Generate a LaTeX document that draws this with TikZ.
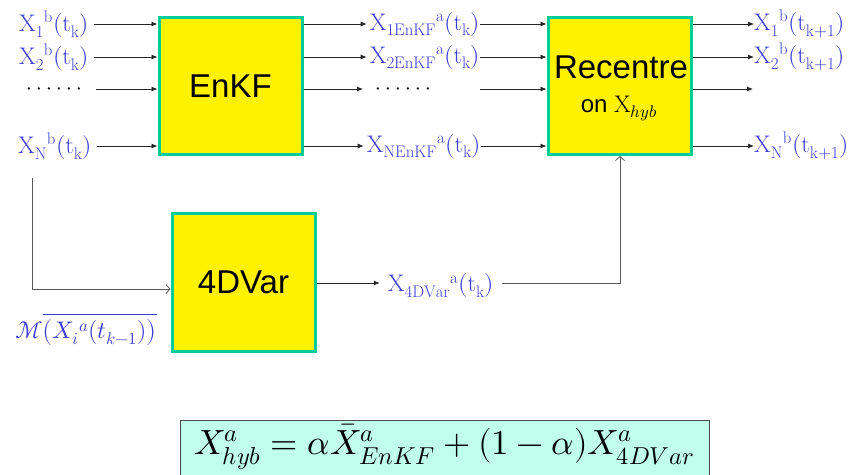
\documentclass[tikz,border=0pt]{standalone}
\usepackage{fontspec}
\usepackage{unicode-math}
\setmathfont{Latin Modern Math}
\newfontfamily\boxfont{Liberation Sans}
\usetikzlibrary{arrows.meta}
\definecolor{lblue}{RGB}{60,60,215}
\definecolor{tealb}{RGB}{0,204,153}
\definecolor{mint}{RGB}{192,255,236}
\newcommand\onedot{\makebox[10pt][c]{\textperiodcentered}}
\newcommand\sixdots{\onedot\onedot\onedot\onedot\onedot\onedot}
\begin{document}
\begin{tikzpicture}[x=1pt,y=-1pt,
 blk/.style={draw=tealb, line width=3pt, fill=yellow, minimum width=143pt, minimum height=137pt, inner sep=0pt, font=\boxfont\fontsize{33}{36}\selectfont},
 lbl/.style={text=lblue, font=\fontsize{24}{28}\selectfont, inner sep=0pt},
 dots/.style={font=\fontsize{28}{32}\selectfont, inner sep=0pt},
 arr/.style={draw=black!85, line width=0.8pt, -{Latex[length=6pt,width=5pt]}},
 oarr/.style={draw=black!65, line width=0.8pt, -{Straight Barb[length=4pt,width=9pt]}},
]
\useasboundingbox (0,0) rectangle (854,474);
% boxes
\node[blk] (enkf) at (230.5,86) {EnKF};
\node[blk] (rec) at (619.5,86) {};
\node[font=\boxfont\fontsize{33}{36}\selectfont, inner sep=0pt, anchor=base] (rect) at (621,78) {Recentre};
\node[font=\boxfont\fontsize{24}{28}\selectfont, inner sep=0pt, anchor=base] (ont) at (619,112) {on $\mathrm{X}_{hyb}$};
\node[blk, minimum height=138pt] (var) at (243.5,282) {4DVar};
% left labels
\node[lbl] (l1) at (54,24) {$\mathrm{X_1{}^b(t_k)}$};
\node[lbl] (l2) at (54,57) {$\mathrm{X_2{}^b(t_k)}$};
\node[dots] (l3) at (54,93) {\sixdots};
\node[lbl] (l4) at (55,146) {$\mathrm{X_N{}^b(t_k)}$};
\draw[arr] ([xshift=5pt]l1.east) -- (enkf.west |- l1);
\draw[arr] ([xshift=5pt]l2.east) -- (enkf.west |- l2);
\draw[arr] (96,89) coordinate (s3) -- (enkf.west |- s3);
\draw[arr] ([xshift=5pt]l4.east) -- (enkf.west |- l4);
% middle labels
\node[lbl] (m1) at (425,24) {$\mathrm{X_{1EnKF}{}^a(t_k)}$};
\node[lbl] (m2) at (425,57) {$\mathrm{X_{2EnKF}{}^a(t_k)}$};
\node[dots] (m3) at (403,93) {\sixdots};
\node[lbl] (m4) at (424,146) {$\mathrm{X_{NEnKF}{}^a(t_k)}$};
\draw[arr] (enkf.east |- m1) -- ([xshift=-3pt]m1.west);
\draw[arr] (enkf.east |- m2) -- ([xshift=-3pt]m2.west);
\draw[arr] (enkf.east |- 0,89) -- (363,89);
\draw[arr] (enkf.east |- m4) -- ([xshift=-3pt]m4.west);
\draw[arr] (m1.east) -- (rec.west |- m1);
\draw[arr] (m2.east) -- (rec.west |- m2);
\draw[arr] (480,89) coordinate (t3) -- (rec.west |- t3);
\draw[arr] (m4.east) -- (rec.west |- m4);
% right labels
\node[lbl, anchor=west] (r1) at (754,24) {$\mathrm{X_1{}^b(t_{k+1})}$};
\node[lbl, anchor=west] (r2) at (754,57) {$\mathrm{X_2{}^b(t_{k+1})}$};
\node[lbl, anchor=west] (r4) at (754,146) {$\mathrm{X_N{}^b(t_{k+1})}$};
\draw[arr] (rec.east |- r1) -- (r1.west);
\draw[arr] (rec.east |- r2) -- (r2.west);
\draw[arr] (rec.east |- 0,89) -- (753,89) coordinate (u3);
\draw[arr] (rec.east |- r4) -- (r4.west);
% model path
\coordinate (mstart) at (32,178);
\draw[oarr] (mstart) -- (32,289) -- (var.west |- 0,289);
\node[lbl] (mlab) at (86,330) {$\mathcal{M}\overline{\bigl(X_i{}^a(t_{k-1})\bigr)}$};
% 4DVar output
\node[lbl] (vlab) at (441,286) {$\mathrm{X_{4DVar}{}^a(t_k)}$};
\draw[arr] (var.east |- 0,283) -- ([xshift=-8pt]vlab.west |- 0,283);
\draw[oarr] ([xshift=8pt]vlab.east |- 0,283) -- (620,283) -- (rec.south -| 620,0);
% formula
\node[draw=black!70, line width=0.8pt, fill=mint, minimum width=529pt, minimum height=60pt, inner sep=0pt, anchor=north west] (form) at (180,420) {};
\node[font=\fontsize{35}{40}\selectfont, inner sep=0pt] (ftext) at (444,447)
 {$X^a_{hyb} = \alpha \bar{X}^a_{EnKF} + (1-\alpha) X^a_{4DVar}$};
\end{tikzpicture}
\end{document}
